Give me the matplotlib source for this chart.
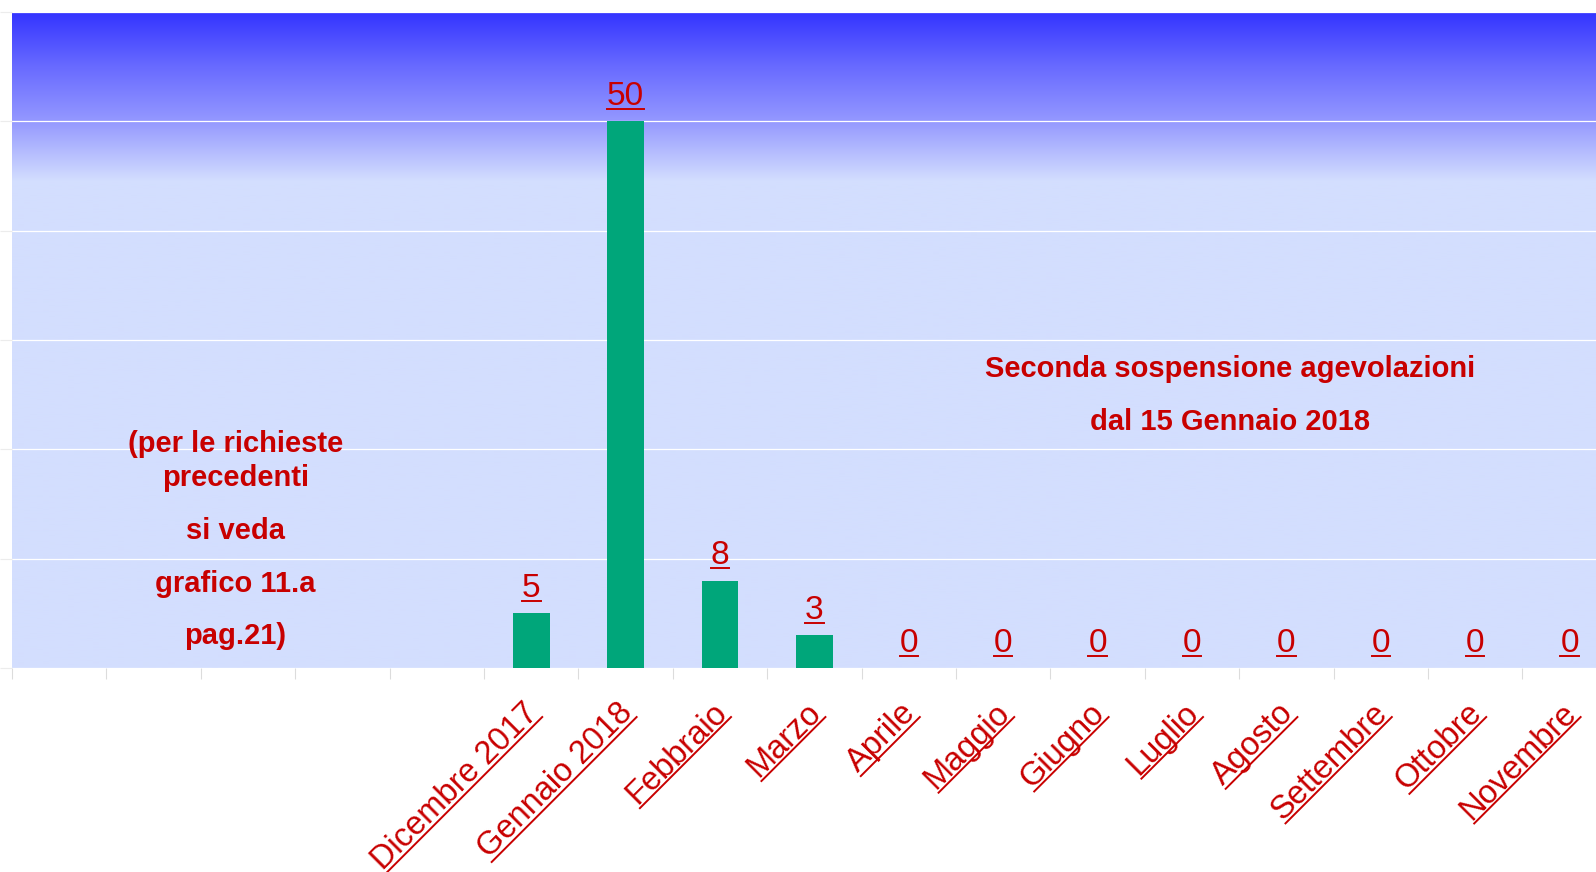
import numpy as np
import matplotlib.pyplot as plt
from matplotlib.transforms import ScaledTranslation, blended_transform_factory
from matplotlib.lines import Line2D

plt.rcParams['font.family'] = ['Liberation Sans', 'DejaVu Sans']

# data
n_blank = 5  # empty slots on the left (earlier requests, see grafico 11.a)
months = ["Dicembre 2017", "Gennaio 2018", "Febbraio", "Marzo", "Aprile", "Maggio",
          "Giugno", "Luglio", "Agosto", "Settembre", "Ottobre", "Novembre"]
values = [5, 50, 8, 3, 0, 0, 0, 0, 0, 0, 0, 0]

note_left = ["(per le richieste", "precedenti", "si veda", "grafico 11.a", "pag.21)"]
note_left_y = [19.75, 16.65, 11.8, 6.95, 2.2]
note_right = ["Seconda sospensione agevolazioni", "dal 15 Gennaio 2018"]
note_right_y = [26.65, 21.75]

RED = "#C80000"
GREEN = "#00A67A"

fig = plt.figure(figsize=(15.96, 8.72), dpi=100)
n_cat = n_blank + len(months)
step = 94.4
ax = fig.add_axes([12 / 1596, 204 / 872, n_cat * step / 1596, 656 / 872])
x = np.arange(n_blank, n_cat)

# blue gradient background
stops_y = [0, 44.5, 50, 55, 60]
stops_c = np.array([[211, 222, 254], [211, 222, 254], [148, 152, 255],
                    [104, 106, 255], [51, 51, 255]]) / 255
yy = np.linspace(0, 60, 600)
grad = np.stack([np.interp(yy, stops_y, stops_c[:, k]) for k in range(3)], axis=-1)[:, None, :]
ax.imshow(grad, extent=[-0.5, n_cat - 0.5, 0, 60], origin="lower", aspect="auto",
          interpolation="bilinear", zorder=0)

ax.bar(x, values, width=0.39, color=GREEN, zorder=3)

ax.set_xlim(-0.5, n_cat - 0.5)
ax.set_ylim(0, 60)
ax.set_yticks(np.arange(0, 61, 10))
ax.set_axisbelow(True)
ax.yaxis.grid(True, color="white", lw=0.9)
ax.set_xticks(np.arange(-0.5, n_cat, 1.0))
ax.tick_params(axis="x", length=7.9, color="#DCDCDC", labelbottom=False)
ax.tick_params(axis="y", length=8.6, color="#ECECEC", labelleft=False)
for s in ax.spines.values():
    s.set_visible(False)

# category labels (rotated, underlined)
lab_tr = blended_transform_factory(ax.transData, ax.transAxes) + \
    ScaledTranslation(8.2 / 100, -46.2 / 100, fig.dpi_scale_trans)
underlined = []
for xi, m in zip(x, months):
    t = ax.text(xi, 0, m, transform=lab_tr, rotation=45, rotation_mode="anchor",
                ha="right", va="baseline", fontsize=23.5, color=RED)
    underlined.append(t)

# value labels
val_tr = ax.transData + ScaledTranslation(0, 16.5 / 100, fig.dpi_scale_trans)
for xi, v in zip(x, values):
    t = ax.text(xi, v, str(v), transform=val_tr, ha="center", va="baseline",
                fontsize=24, color=RED)
    underlined.append(t)

for s, yv in zip(note_left, note_left_y):
    ax.text(1.868, yv, s, ha="center", va="baseline", fontsize=21,
            fontweight="bold", color=RED)
for s, yv in zip(note_right, note_right_y):
    ax.text(12.40, yv, s, ha="center", va="baseline", fontsize=21,
            fontweight="bold", color=RED)


def underline(t, gap=4.0, lw=1.4):
    r = fig.canvas.get_renderer()
    w, h, d = r.get_text_width_height_descent(t.get_text(), t.get_fontproperties(), ismath=False)
    px, py = t.get_transform().transform(t.get_position())
    x0 = {"right": -w, "center": -w / 2, "left": 0}[t.get_ha()]
    ang = np.deg2rad(t.get_rotation())
    c, s = np.cos(ang), np.sin(ang)
    pts = [(x0, -gap), (x0 + w, -gap)]
    disp = np.array([(px + c * a - s * b, py + s * a + c * b) for a, b in pts])
    fp = fig.transFigure.inverted().transform(disp)
    fig.add_artist(Line2D(fp[:, 0], fp[:, 1], color=t.get_color(), lw=lw,
                          transform=fig.transFigure))


fig.canvas.draw()
for t in underlined:
    underline(t)

fig.savefig("out.png", dpi=100)
